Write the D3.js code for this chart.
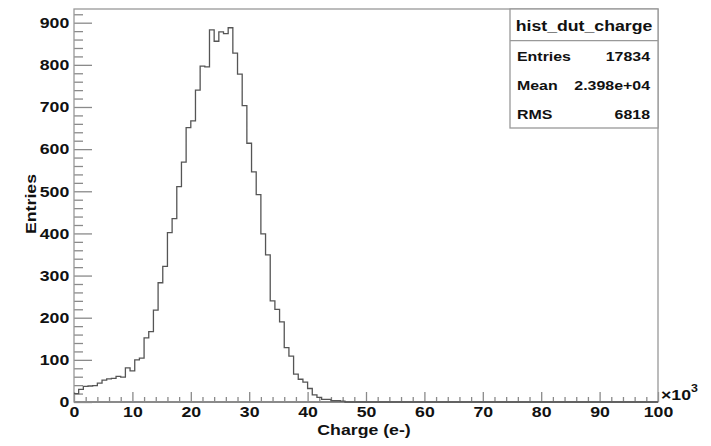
<!DOCTYPE html>
<html>
<head>
<meta charset="utf-8">
<script src="https://cdn.jsdelivr.net/npm/d3@7"></script>
<style>
body { margin: 0; background: #fff; }
text { font-family: "Liberation Sans", Arial, Helvetica, sans-serif; font-weight: bold; fill: #111; }
</style>
</head>
<body>
<script>
let svgWidth = 711
let svgHeight = 446

let margin = {
    top: 9,
    right: 53,
    bottom: 44,
    left: 74
}

let w = svgWidth - margin.left - margin.right
let h = svgHeight - margin.top - margin.bottom

// histogram: 125 bins of 0.8 (x10^3 e-) from 0 to 100, bins after the list are empty
let binWidth = 0.8
let counts = [20, 30, 37, 38, 39, 45, 52, 55, 56, 61,
    59, 81, 74, 100, 104, 152, 167, 218, 283, 322,
    402, 435, 511, 569, 651, 667, 740, 797, 795, 883,
    856, 878, 874, 888, 828, 778, 703, 614, 546, 492,
    399, 349, 240, 220, 190, 129, 109, 66, 54, 47,
    32, 17, 11, 6, 6, 3, 3, 2]

let xTicks = [0, 10, 20, 30, 40, 50, 60, 70, 80, 90, 100]
let yTicks = [0, 100, 200, 300, 400, 500, 600, 700, 800, 900]

let statsTitle = "hist_dut_charge"
let statsLabels = ["Entries", "Mean", "RMS"]
let statsValues = ["17834", "2.398e+04", "6818"]

let xMax = 100
let yMax = 932.5
let stretchX = 1.18
let axisColor = "#8a8a8a"

let xScale = d3.scaleLinear().domain([0, xMax]).range([margin.left, margin.left + w])
let yScale = d3.scaleLinear().domain([0, yMax]).range([margin.top + h, margin.top])

let svg = d3.select("body")
    .append("svg")
    .attr("width", svgWidth)
    .attr("height", svgHeight)

svg.append("rect")
    .attr("width", svgWidth)
    .attr("height", svgHeight)
    .attr("fill", "#fff")

function styleAxis(g, size) {
    g.attr("font-family", null).attr("font-size", size)
    g.select(".domain").remove()
    g.selectAll("line").attr("stroke", axisColor).attr("stroke-width", 1.3)
    g.selectAll("text").attr("transform", "scale(" + stretchX + ",1)")
}

// y axis, ticks pointing into the frame
let yMinor = d3.range(0, yMax, 20).filter(function (d) { return d % 100 !== 0 })
svg.append("g")
    .attr("transform", "translate(" + margin.left + ",0)")
    .call(d3.axisLeft(yScale).tickValues(yMinor).tickSize(-9).tickSizeOuter(0).tickFormat(""))
    .call(styleAxis, 15)
svg.append("g")
    .attr("transform", "translate(" + margin.left + ",0)")
    .call(d3.axisLeft(yScale).tickValues(yTicks).tickSize(-18).tickSizeOuter(0).tickPadding(4).tickFormat(d3.format("d")))
    .call(styleAxis, 15)

// x axis
let xMinor = d3.range(0, xMax + 1, 2).filter(function (d) { return d % 10 !== 0 })
svg.append("g")
    .attr("transform", "translate(0," + (margin.top + h) + ")")
    .call(d3.axisBottom(xScale).tickValues(xMinor).tickSize(-5).tickSizeOuter(0).tickFormat(""))
    .call(styleAxis, 15)
svg.append("g")
    .attr("transform", "translate(0," + (margin.top + h) + ")")
    .call(d3.axisBottom(xScale).tickValues(xTicks).tickSize(-10).tickSizeOuter(0).tickPadding(4).tickFormat(d3.format("d")))
    .call(styleAxis, 15)

// frame
svg.append("rect")
    .attr("x", margin.left)
    .attr("y", margin.top)
    .attr("width", w)
    .attr("height", h)
    .attr("fill", "none")
    .attr("stroke", "#999")
    .attr("stroke-width", 1.3)

svg.append("line")
    .attr("x1", margin.left).attr("x2", margin.left + w)
    .attr("y1", margin.top + h).attr("y2", margin.top + h)
    .attr("stroke", axisColor)
    .attr("stroke-width", 2)

// histogram outline
let points = counts.map(function (c, i) { return [i * binWidth, c] })
points.push([counts.length * binWidth, 0])
points.push([xMax, 0])

let line = d3.line()
    .x(function (d) { return xScale(d[0]) })
    .y(function (d) { return yScale(d[1]) })
    .curve(d3.curveStepAfter)

svg.append("path")
    .datum(points)
    .attr("d", line)
    .attr("fill", "none")
    .attr("stroke", "#555")
    .attr("stroke-width", 1.3)

// axis titles
function stretchedText(x, y, str, size, anchor, rotate) {
    return svg.append("text")
        .attr("transform", "translate(" + x + "," + y + ")" + (rotate ? " rotate(" + rotate + ")" : "") + " scale(" + stretchX + ",1)")
        .attr("font-size", size)
        .attr("text-anchor", anchor)
        .text(str)
}

stretchedText(364, 435, "Charge (e-)", 15, "middle")
stretchedText(36, 204, "Entries", 15, "middle", -90)

let expo = stretchedText(661, 400, "\u00d710", 15, "start")
expo.append("tspan")
    .attr("dy", -8)
    .attr("font-size", 10.5)
    .text("3")

// stats box
let box = {x: 510, y: margin.top, w: margin.left + w - 510, h: 119}
svg.append("rect")
    .attr("x", box.x)
    .attr("y", box.y)
    .attr("width", box.w)
    .attr("height", box.h)
    .attr("fill", "#fff")
    .attr("stroke", "#999")
    .attr("stroke-width", 1.3)
svg.append("line")
    .attr("x1", box.x).attr("x2", box.x + box.w)
    .attr("y1", box.y + 31.7).attr("y2", box.y + 31.7)
    .attr("stroke", "#999")
    .attr("stroke-width", 1.3)

stretchedText(box.x + box.w / 2, 31, statsTitle, 15, "middle")

statsLabels.forEach(function (d, i) {
    let y = 61 + i * 29
    stretchedText(box.x + 7, y, d, 13.5, "start")
    stretchedText(box.x + box.w - 8, y, statsValues[i], 13.5, "end")
})
</script>
</body>
</html>
